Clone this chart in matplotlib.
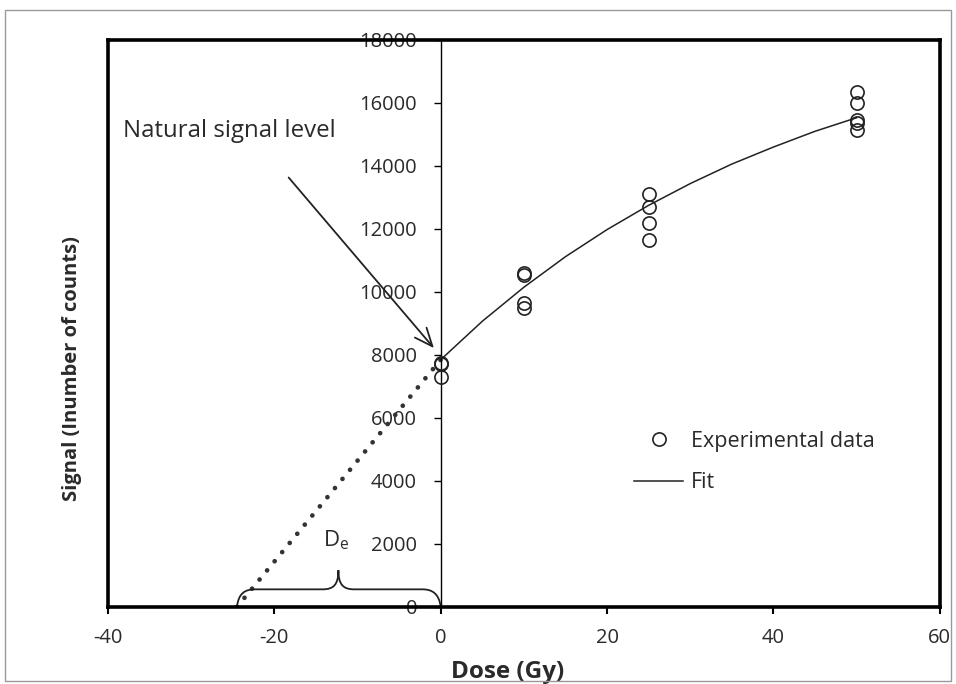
import matplotlib
matplotlib.use("Agg")
import matplotlib.pyplot as plt
from matplotlib.path import Path
from matplotlib.patches import PathPatch, Rectangle

plt.rcParams['font.family'] = ['Open Sans', 'DejaVu Sans']
plt.rcParams['axes.unicode_minus'] = False

# measured points
dose = [0, 0, 0, 10, 10, 10, 10, 25, 25, 25, 25, 50, 50, 50, 50, 50]
signal = [7750, 7700, 7300, 10600, 10550, 9650, 9500,
          13100, 12700, 12200, 11650, 16350, 16000, 15450, 15350, 15150]

# fit curve
fit_dose = [0, 5, 10, 15, 20, 25, 30, 35, 40, 45, 50]
fit_signal = [7850, 9070, 10150, 11120, 11980, 12750, 13440, 14060, 14600, 15100, 15530]

# extrapolation back to zero signal
extrap_dose = [-24.5, 0]
extrap_signal = [0, 7850]

xticks = [-40, -20, 0, 20, 40, 60]
yticks = list(range(0, 18001, 2000))

fig = plt.figure(figsize=(9.56, 6.84), dpi=100)
ax = fig.add_axes([0.113, 0.1126, 0.870, 0.829])

ax.plot(extrap_dose, extrap_signal, color='#333333', lw=3.4,
        linestyle=(0, (0.01, 2.5)), dash_capstyle='round', zorder=2)
ax.plot(dose, signal, 'o', mfc='none', mec='#222222', mew=1.2, ms=9.5,
        label='Experimental data', zorder=3)
ax.plot(fit_dose, fit_signal, '-', color='#222222', lw=1.1, label='Fit', zorder=2)

ax.set_xlim(-40, 60)
ax.set_ylim(0, 18000)
ax.set_xticks(xticks)
ax.set_yticks(yticks)

# spines: y axis through zero, thick frame around
ax.spines['left'].set_position(('data', 0))
ax.spines['left'].set_linewidth(1.0)
for s in ['top', 'right', 'bottom']:
    ax.spines[s].set_linewidth(2.6)
ax.plot([0, 0], [0, 1], transform=ax.transAxes, color='black', lw=2.6,
        clip_on=False, solid_capstyle='projecting')

ax.tick_params(axis='y', direction='out', length=5, width=1, pad=12,
               labelsize=14.5, labelcolor='#2a2a2a')
ax.tick_params(axis='x', direction='out', length=5, width=1.5, pad=10,
               labelsize=14.5, labelcolor='#2a2a2a')

ax.set_xlabel('Dose (Gy)', fontsize=17.5, fontweight='bold', color='#2a2a2a')
ax.xaxis.set_label_coords(0.48, -0.093)
ax.set_ylabel('Signal (Inumber of counts)', fontsize=14.5, fontweight='bold', color='#2a2a2a')
ax.yaxis.set_label_coords(-0.031, 0.42)

# annotation for natural signal
ax.annotate('', xy=(-0.6, 8150), xytext=(-18.5, 13700),
            arrowprops=dict(arrowstyle='->,head_length=1.3,head_width=0.55',
                            color='#222222', lw=1.3))
ax.text(-38.2, 15100, 'Natural signal level', fontsize=17.3, color='#2a2a2a',
        va='center', ha='left')

# curly brace for De
verts = [(-24.5, 0),
         (-24.3, 450), (-23.5, 560), (-22.3, 560),
         (-14.2, 560),
         (-12.9, 560), (-12.3, 700), (-12.3, 1170),
         (-12.3, 700), (-11.7, 560), (-10.4, 560),
         (-2.2, 560),
         (-1.0, 560), (-0.2, 420), (0, 0)]
codes = [Path.MOVETO,
         Path.CURVE4, Path.CURVE4, Path.CURVE4,
         Path.LINETO,
         Path.CURVE4, Path.CURVE4, Path.CURVE4,
         Path.CURVE4, Path.CURVE4, Path.CURVE4,
         Path.LINETO,
         Path.CURVE4, Path.CURVE4, Path.CURVE4]
ax.add_patch(PathPatch(Path(verts, codes), fill=False, lw=1.3,
                       edgecolor='#222222', zorder=2))
ax.text(-12.6, 1750, r'D$_\mathregular{e}$', fontsize=16, color='#2a2a2a',
        ha='center', va='bottom')

leg = ax.legend(loc='upper left', bbox_to_anchor=(0.609, 0.345), frameon=False,
                fontsize=15.5, handlelength=2.3, handletextpad=0.35,
                labelspacing=0.95, labelcolor='#2a2a2a')

# light outer frame of the figure
fig.patches.append(Rectangle((0.005, 0.004), 0.99, 0.981, transform=fig.transFigure,
                             fill=False, edgecolor='#999999', lw=1.0))

fig.savefig('out.png', dpi=100)
